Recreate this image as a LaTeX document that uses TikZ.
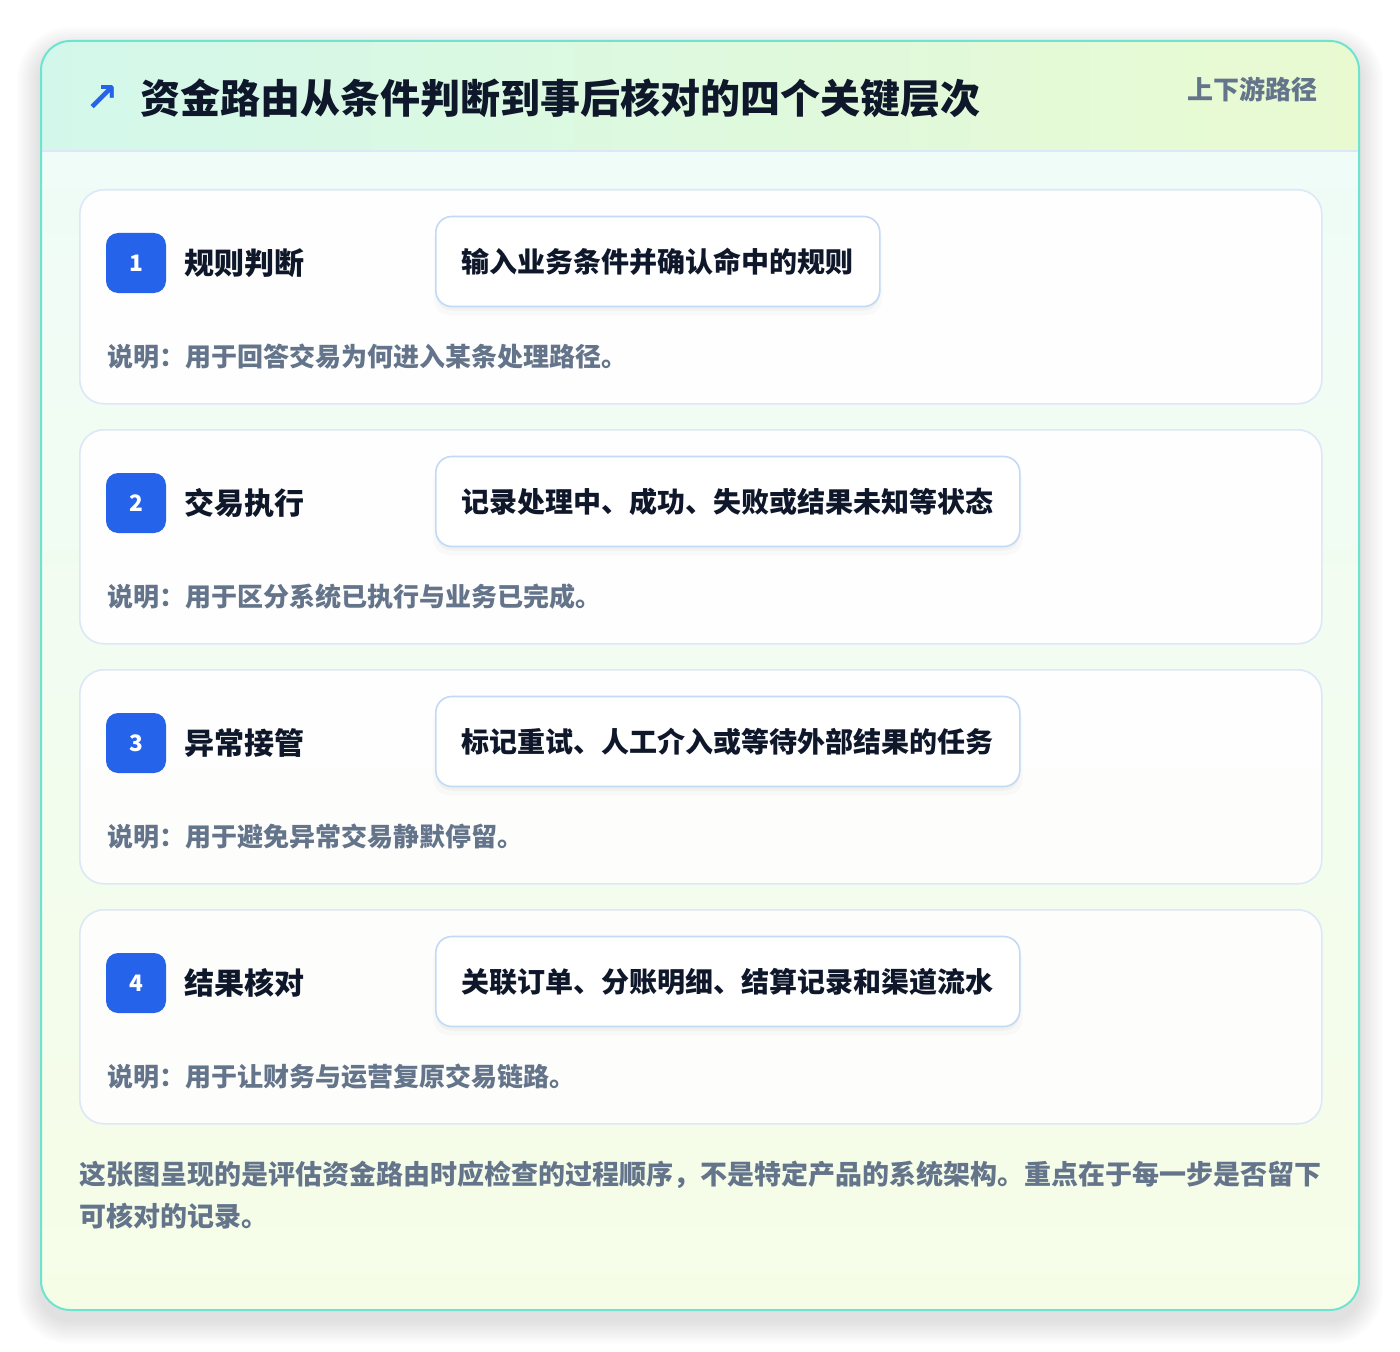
\documentclass[tikz,border=0pt]{standalone}
\usepackage{fontspec}
\setmainfont{Noto Sans CJK SC}
\newfontfamily\symfont{DejaVu Sans}
\usetikzlibrary{positioning,shadows}

\definecolor{brandblue}{HTML}{2563EB}
\definecolor{inkdark}{HTML}{0F172A}
\definecolor{slategray}{HTML}{64748B}
\definecolor{tealedge}{HTML}{6EE3D0}
\definecolor{hdrleft}{HTML}{D3F8EB}
\definecolor{hdrright}{HTML}{E9FAD1}
\definecolor{hdrline}{HTML}{DCE8F8}
\definecolor{bodytop}{HTML}{EFFCF7}
\definecolor{bodybot}{HTML}{F6FDE7}
\definecolor{cardedge}{HTML}{DCE8F8}
\definecolor{boxedge}{HTML}{C3D9F5}

\tikzset{
  card/.style={draw=cardedge, line width=1.2pt, fill=white, fill opacity=.88,
    text opacity=1, rounded corners=18pt, anchor=north west,
    minimum width=931.5pt, minimum height=160.5pt, inner sep=0pt},
  badge/.style={fill=brandblue, text=white, rounded corners=9pt,
    minimum size=45pt, inner sep=0pt, font=\bfseries\fontsize{17}{17}\selectfont},
  cardtitle/.style={inner sep=0pt, text=inkdark, font=\bfseries\fontsize{22.5}{22.5}\selectfont},
  stepbox/.style={draw=boxedge, line width=1.2pt, fill=white, rounded corners=12pt,
    anchor=west, inner xsep=19.5pt, minimum height=67.5pt, text=inkdark,
    font=\bfseries\fontsize{21}{21}\selectfont,
    general shadow={fill=black, opacity=.02, shadow yshift=-6pt, shadow scale=1.01},
    general shadow={fill=black, opacity=.03, shadow yshift=-3pt}},
  notetext/.style={anchor=west, inner sep=0pt, text=slategray,
    font=\bfseries\fontsize{19.5}{19.5}\selectfont}
}

\begin{document}
\begin{tikzpicture}[x=0.75pt, y=-0.75pt, line join=round, line cap=round]
  \useasboundingbox (0,0) rectangle (1400,1352);
  \fill[white] (0,0) rectangle (1400,1352);

  % soft shadow of the panel
  \foreach \k in {1,...,10}
    \fill[black, opacity=.012, rounded corners=22pt+1.8pt*\k]
      (41-2.4*\k,41-2.4*\k+10) rectangle (1359+2.4*\k,1310+2.4*\k+10);

  % outer panel
  \begin{scope}
    \clip[rounded corners=22pt] (41,41) rectangle (1359,1310);
    \shade[top color=bodytop, bottom color=bodybot] (41,151) rectangle (1359,1310);
    \shade[left color=hdrleft, right color=hdrright] (41,41) rectangle (1359,151);
  \end{scope}
  \coordinate (hl) at (41,151);  \coordinate (hr) at (1359,151);
  \draw[hdrline, line width=1.2pt] (hl) -- (hr);
  \draw[tealedge, line width=1.5pt, rounded corners=22pt] (41,41) rectangle (1359,1310);

  % header
  \node[anchor=west, inner sep=0pt, text=brandblue,
    font=\symfont\bfseries\fontsize{30}{30}\selectfont] (icon) at (85,99) {↗};
  \node[anchor=west, inner sep=0pt, text=inkdark,
    font=\bfseries\fontsize{30}{30}\selectfont] (head) at (140,98)
    {资金路由从条件判断到事后核对的四个关键层次};
  \node[anchor=east, inner sep=0pt, text=slategray,
    font=\bfseries\fontsize{19.5}{19.5}\selectfont] (tag) at (1318,89) {上下游路径};

  % the four layers
  \foreach \i/\ttl/\stp/\note in {
    1/规则判断/输入业务条件并确认命中的规则/用于回答交易为何进入某条处理路径。,
    2/交易执行/记录处理中、成功、失败或结果未知等状态/用于区分系统已执行与业务已完成。,
    3/异常接管/标记重试、人工介入或等待外部结果的任务/用于避免异常交易静默停留。,
    4/结果核对/关联订单、分账明细、结算记录和渠道流水/用于让财务与运营复原交易链路。
  }{
    \pgfmathsetmacro\y{189+(\i-1)*240}
    \node[card] (card\i) at (79,\y) {};
    \node[badge] (badge\i) at (136,\y+74) {\i};
    \node[cardtitle, right=13.5pt of badge\i] (title\i) {\ttl};
    \node[stepbox] (step\i) at (435,\y+72.5) {\stp};
    \node[notetext] (note\i) at (107,\y+168) {说明：\note};
  }

  % footer
  \node[anchor=base west, inner sep=0pt, align=left, text=slategray,
    font=\bfseries\fontsize{20.25}{31.5}\selectfont] (foot) at (79,1226)
    {这张图呈现的是评估资金路由时应检查的过程顺序，不是特定产品的系统架构。重点在于每一步是否留下\\可核对的记录。};
\end{tikzpicture}
\end{document}
